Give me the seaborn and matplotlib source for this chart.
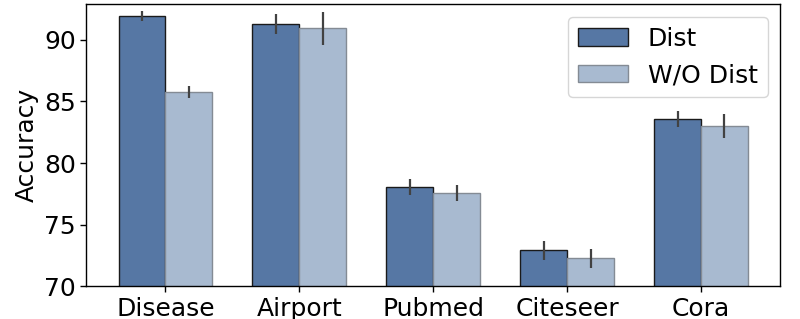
import numpy as np
import pandas as pd
import matplotlib
matplotlib.use("Agg")
import matplotlib.pyplot as plt
import seaborn as sns

datasets = ["Disease", "Airport", "Pubmed", "Citeseer", "Cora"]
dist_acc = [91.95, 91.3, 78.05, 72.9, 83.55]
dist_err = [0.4, 0.8, 0.65, 0.76, 0.64]
nodist_acc = [85.75, 90.95, 77.55, 72.25, 83.0]
nodist_err = [0.47, 1.33, 0.67, 0.76, 0.96]
methods = ["Dist", "W/O Dist"]

df = pd.DataFrame({
    "dataset": datasets * 2,
    "acc": dist_acc + nodist_acc,
    "err": dist_err + nodist_err,
    "method": [methods[0]] * 5 + [methods[1]] * 5,
})

sns.set_style("white")
plt.rcParams["font.family"] = ["DejaVu Sans"]
plt.rcParams["text.color"] = "black"
plt.rcParams["axes.labelcolor"] = "black"
plt.rcParams["xtick.color"] = "black"
plt.rcParams["ytick.color"] = "black"

fig, ax = plt.subplots(figsize=(8, 3.19), dpi=100)
sns.barplot(data=df, x="dataset", y="acc", hue="method", order=datasets,
            hue_order=methods, palette=["#5677a4", "#a8bad0"], saturation=1,
            width=0.7, errorbar=None, ax=ax, linewidth=1.0, legend=False)

# edge colours and error bars
bar_groups = list(ax.containers)
for container, m in zip(bar_groups, methods):
    sub = df[df.method == m].set_index("dataset").loc[datasets]
    for bar, err in zip(container, sub["err"]):
        bar.set_edgecolor("#1a1a1a" if m == "Dist" else "#848b94")
        ax.errorbar(bar.get_x() + bar.get_width() / 2, bar.get_height(),
                    yerr=err, color="#424242", lw=1.6, capsize=0)

ax.set_ylim(70, 92.9)
ax.set_xlim(-0.59, 4.59)
ax.set_yticks([70, 75, 80, 85, 90])
ax.set_xlabel("")
ax.set_ylabel("Accuracy", fontsize=18)
ax.tick_params(axis="both", labelsize=18, length=4, width=1, bottom=True, left=True)
for s in ax.spines.values():
    s.set_color("black")
    s.set_linewidth(1.0)
ax.legend(handles=[c.patches[0] for c in bar_groups], labels=methods,
          loc="upper right", fontsize=18, frameon=True, handlelength=2.0)

fig.subplots_adjust(left=0.108, right=0.975, top=0.987, bottom=0.103)
fig.savefig("out.png", dpi=100)
